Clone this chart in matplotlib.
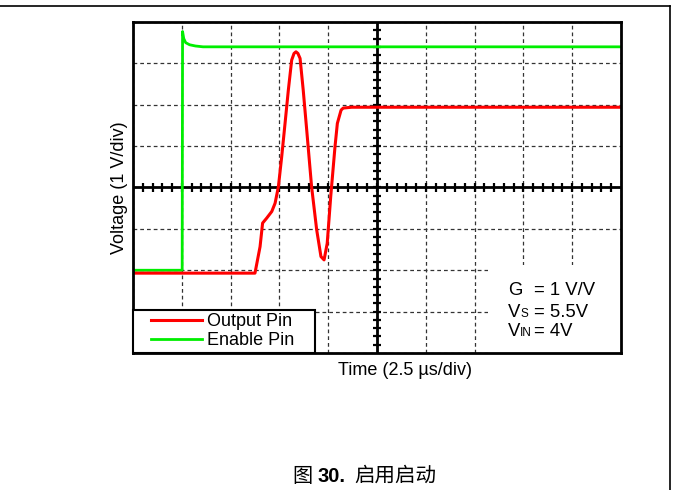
import numpy as np
import matplotlib
matplotlib.use("Agg")
import matplotlib.pyplot as plt
from matplotlib.lines import Line2D
from matplotlib.patches import Rectangle
from matplotlib.legend_handler import HandlerLine2D

plt.rcParams['font.family'] = ['Liberation Sans', 'DejaVu Sans']

# Scope traces (time in us, voltage in V)
t_enable = [0, 2.52, 2.54, 2.60, 2.70, 2.90, 3.20, 3.59, 25]
v_enable = [0.0, 0.0, 5.77, 5.60, 5.50, 5.45, 5.42, 5.40, 5.40]

t_output = [0, 6.25, 6.51, 6.64, 6.85, 7.11, 7.28, 7.45, 7.62, 7.79, 7.96, 8.13,
            8.25, 8.35, 8.45, 8.56, 8.72, 8.90, 9.15, 9.41, 9.63, 9.79, 9.95,
            10.13, 10.35, 10.47, 10.66, 10.77, 11.2, 25]
v_output = [-0.07, -0.07, 0.57, 1.14, 1.26, 1.42, 1.62, 2.02, 2.75, 3.55, 4.36, 5.08,
            5.24, 5.28, 5.24, 5.12, 4.36, 3.39, 2.02, 0.98, 0.33, 0.25, 0.65,
            1.78, 2.99, 3.55, 3.87, 3.92, 3.94, 3.94]

conditions_left = ["G", "V", "V"]
conditions_sub = ["", "S", "IN"]
conditions_right = ["= 1 V/V", "= 5.5V", "= 4V"]

fig = plt.figure(figsize=(6.73, 4.90), dpi=100)
ax = fig.add_axes([0.1976, 0.2796, 0.7251, 0.6755])
ax.set_xlim(0, 25)
ax.set_ylim(-2, 6)

# scope graticule
ax.set_xticks(np.arange(0, 25.1, 2.5))
ax.set_yticks(np.arange(-2, 6.1, 1))
ax.tick_params(length=0, labelbottom=False, labelleft=False)
ax.set_axisbelow(True)
ax.grid(True, linestyle=(0, (3, 2.4)), color='#333333', linewidth=0.9)
for s in ax.spines.values():
    s.set_linewidth(2)

# centre cross with minor divisions
ax.axhline(2, color='black', lw=2, zorder=1.8)
ax.axvline(12.5, color='black', lw=2, zorder=1.8)
ax.vlines(np.arange(0.5, 25, 0.5), 2 - 0.105, 2 + 0.105, color='black', lw=1.6, zorder=1.8)
ax.hlines(np.arange(-1.8, 6, 0.2), 12.5 - 0.19, 12.5 + 0.19, color='black', lw=1.6, zorder=1.8)

# blank area behind the test conditions
ax.add_patch(Rectangle((18.2, -2), 6.8, 2.12, facecolor='white', edgecolor='none', zorder=1))

ax.plot(t_output, v_output, color='#ff0000', lw=2.2, solid_joinstyle='round', label='Output Pin', zorder=2.5)
ax.plot(t_enable, v_enable, color='#00ee00', lw=2.0, label='Enable Pin', zorder=2.4)

leg = ax.legend(loc='lower left', bbox_to_anchor=(0, 0, 0.373, 0.2), mode='expand',
                borderaxespad=0, fancybox=False, framealpha=1, edgecolor='black',
                fontsize=13, handlelength=3.6, handletextpad=0.28, labelspacing=0.12,
                borderpad=0.2, handler_map={Line2D: HandlerLine2D(xpad=0.78)})
leg.get_frame().set_linewidth(1.5)
leg.set_zorder(5)

# test conditions
ybase = [-0.594, -1.118, -1.60]
for left, sub, right, yb in zip(conditions_left, conditions_sub, conditions_right, ybase):
    ax.text(19.21, yb, left, fontsize=13.3, va='baseline', ha='left', zorder=6)
    if sub:
        ax.text(19.83, yb, sub, fontsize=8.5, va='baseline', ha='left', zorder=6)
    ax.text(20.54, yb, right, fontsize=13.3, va='baseline', ha='left', zorder=6)

ax.set_xlabel("Time (2.5 µs/div)", fontsize=13)
ax.xaxis.set_label_coords(0.557, -0.027)
ax.set_ylabel("Voltage (1 V/div)", fontsize=13)
ax.yaxis.set_label_coords(-0.011, 0.5)

# caption
fig.text(292 / 673, 0.017, "图", fontsize=14.5, family=['Noto Sans CJK SC'], va='baseline')
fig.text(318 / 673, 0.017, "30.", fontsize=14.5, fontweight='bold', va='baseline')
fig.text(354 / 673, 0.017, "启用启动", fontsize=14.8, family=['Noto Sans CJK SC'], va='baseline')

# page frame
fig.add_artist(Line2D([0, 0.9955], [0.9878, 0.9878], color='black', lw=1.2))
fig.add_artist(Line2D([0.9955, 0.9955], [0, 0.9878], color='black', lw=1.2))

fig.savefig("out.png", dpi=100)
